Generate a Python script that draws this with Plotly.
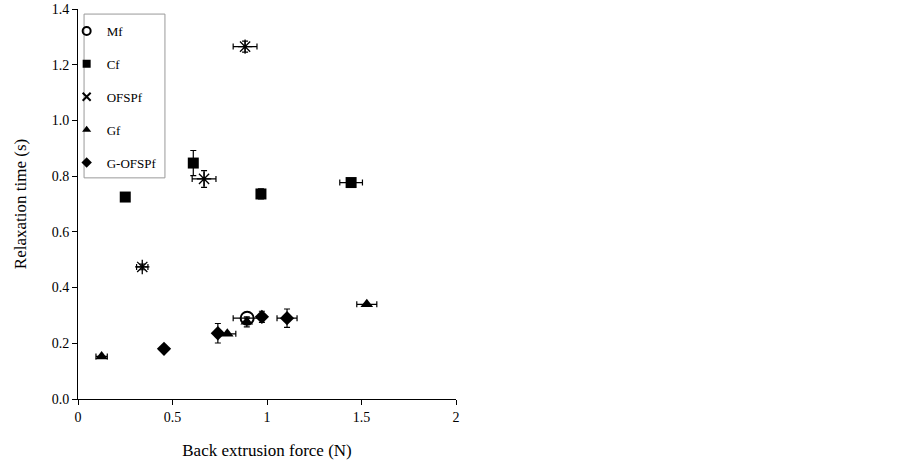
import plotly.graph_objects as go

# Data
mf_x = [0.895]
mf_y = [0.29]
mf_xerr = [0.074]
mf_yerr = [0.0]

cf_x = [0.25, 0.61, 0.968, 1.445]
cf_y = [0.725, 0.847, 0.736, 0.777]
cf_xerr = [0.0, 0.0, 0.0, 0.06]
cf_yerr = [0.0, 0.045, 0.018, 0.0]

ofspf_x = [0.34, 0.667, 0.884]
ofspf_y = [0.474, 0.79, 1.265]
ofspf_xerr = [0.03, 0.063, 0.063]
ofspf_yerr = [0.01, 0.03, 0.02]

gf_x = [0.125, 0.79, 0.893, 1.528]
gf_y = [0.153, 0.234, 0.277, 0.34]
gf_xerr = [0.03, 0.045, 0.0, 0.053]
gf_yerr = [0.0, 0.0, 0.018, 0.0]

gofspf_x = [0.455, 0.74, 0.973, 1.106]
gofspf_y = [0.18, 0.236, 0.295, 0.29]
gofspf_xerr = [0.0, 0.0, 0.0, 0.053]
gofspf_yerr = [0.0, 0.035, 0.02, 0.033]

font = "Liberation Serif, Times New Roman, serif"

series = [
    # name, x, y, xerr, yerr, symbol, size, outline, legend symbol
    ("Mf", mf_x, mf_y, mf_xerr, mf_yerr, "circle-open", 13, 2, "circle-open"),
    ("Cf", cf_x, cf_y, cf_xerr, cf_yerr, "square", 11, 0, "square"),
    ("OFSPf", ofspf_x, ofspf_y, ofspf_xerr, ofspf_yerr, "asterisk-open", 12, 1.3, "x-thin-open"),
    ("Gf", gf_x, gf_y, gf_xerr, gf_yerr, "triangle-up", 11, 0, "triangle-up"),
    ("G-OFSPf", gofspf_x, gofspf_y, gofspf_xerr, gofspf_yerr, "diamond", 11, 0, "diamond"),
]

fig = go.Figure()
for name, x, y, xerr, yerr, symbol, size, lw, leg_symbol in series:
    fig.add_trace(go.Scatter(
        x=x, y=y, mode="markers", name=name, legendgroup=name, showlegend=False,
        marker=dict(symbol=symbol, size=size, color="black",
                    line=dict(color="black", width=lw)),
        error_x=dict(type="data", array=xerr, color="black", thickness=1.2, width=3),
        error_y=dict(type="data", array=yerr, color="black", thickness=1.2, width=3),
    ))
    # small legend-only marker, like the reference key
    fig.add_trace(go.Scatter(
        x=[None], y=[None], mode="markers", name=name, legendgroup=name,
        marker=dict(symbol=leg_symbol, size=8, color="black",
                    line=dict(color="black", width=2 if "open" in leg_symbol else 0)),
    ))

# legend frame
fig.add_shape(type="rect", xref="paper", yref="paper",
              x0=0.016, x1=0.230, y0=0.567, y1=0.987,
              line=dict(color="#999999", width=1), fillcolor="rgba(0,0,0,0)")

fig.update_layout(
    width=902, height=460,
    margin=dict(l=78, r=446, t=9, b=61),
    plot_bgcolor="white", paper_bgcolor="white",
    font=dict(family=font, size=14, color="black"),
    showlegend=True,
    legend=dict(x=-0.03, y=0.982, xanchor="left", yanchor="top",
                borderwidth=0, bgcolor="rgba(0,0,0,0)",
                font=dict(family=font, size=13, color="black"), tracegroupgap=13,
                itemwidth=30),
    xaxis=dict(range=[0, 2], tickvals=[0, 0.5, 1, 1.5, 2], ticktext=["0", "0.5", "1", "1.5", "2"],
               showgrid=False, zeroline=False, showline=True, linecolor="black", linewidth=1,
               ticks="outside", ticklen=5, tickcolor="black", automargin=False,
               tickfont=dict(size=14), ticklabeloverflow="allow",
               title=dict(text="Back extrusion force (N)", standoff=20)),
    yaxis=dict(range=[0, 1.4], dtick=0.2, tickformat=".1f",
               showgrid=False, zeroline=False, showline=True, linecolor="black", linewidth=1,
               ticks="outside", ticklen=5, tickcolor="black", automargin=False,
               tickfont=dict(size=14), ticklabeloverflow="allow",
               title=dict(text="Relaxation time (s)", standoff=20)),
)

# drop the page's default body margin so the figure fills the window
fig.write_html("out.html", config={"displayModeBar": False},
               post_script="document.body.style.margin = '0';")
